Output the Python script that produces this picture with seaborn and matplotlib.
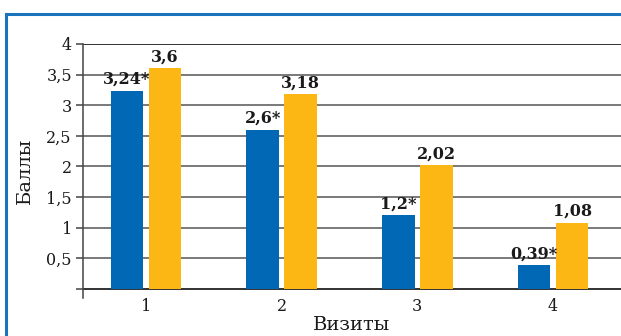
import matplotlib
matplotlib.use("Agg")
import matplotlib.pyplot as plt
from matplotlib.patches import Rectangle
import seaborn as sns
import pandas as pd

visits = ["1", "2", "3", "4"]
group_a = [3.24, 2.6, 1.2, 0.39]   # significant difference marked with *
group_b = [3.6, 3.18, 2.02, 1.08]
series_names = ["Группа A", "Группа B"]
y_ticks = [0, 0.5, 1, 1.5, 2, 2.5, 3, 3.5, 4]

BLUE = "#0068b4"
ORANGE = "#fdb714"
FRAME = "#1a73bd"

df = pd.DataFrame({
    "Визиты": visits * 2,
    "Баллы": group_a + group_b,
    "series": [series_names[0]] * 4 + [series_names[1]] * 4,
})

sns.set_theme(style="white")
plt.rcParams["font.family"] = ["DejaVu Serif"]

fig = plt.figure(figsize=(6.21, 3.36), dpi=100)
ax = fig.add_axes([83 / 621, 1 - 298 / 336, 1 - 83 / 621, (298 - 44) / 336])

sns.barplot(data=df, x="Визиты", y="Баллы", hue="series",
            palette=[BLUE, ORANGE], width=0.56, gap=0.14,
            saturation=1, legend=False, ax=ax, zorder=3,
            linewidth=0, edgecolor="none")

ax.set_xlim(-0.463, 3.5)
ax.set_ylim(-0.147, 4)
ax.set_yticks(y_ticks)
ax.set_yticklabels(["" if t == 0 else f"{t:g}".replace(".", ",") for t in y_ticks],
                   fontsize=11.5, color="#1a1a1a")
ax.tick_params(axis="y", length=5, width=1.1, color="#444", pad=3, left=True)
ax.tick_params(axis="x", length=0, pad=0, labelsize=11.5, labelcolor="#1a1a1a")

# horizontal grid lines
for t in y_ticks:
    c = "#222222" if t in (0, 4) else "#6e6e6e"
    ax.axhline(t, color=c, lw=1.3, zorder=1)

for s in ["top", "right", "bottom"]:
    ax.spines[s].set_visible(False)
ax.spines["left"].set_color("#444")
ax.spines["left"].set_linewidth(1.1)

# value labels above bars
for cont, vals, star in zip(ax.containers, [group_a, group_b], ["*", ""]):
    labels = [f"{v:g}".replace(".", ",") + star for v in vals]
    ax.bar_label(cont, labels=labels, padding=2, fontsize=11.5,
                 fontweight="bold", color="#1a1a1a")

ax.set_xlabel("Визиты", fontsize=14, color="#1a1a1a", labelpad=1)
ax.set_ylabel("Баллы", fontsize=14, color="#1a1a1a", labelpad=9)

# blue frame around the chart
fig.patches.append(Rectangle((5.5 / 621, -0.1), 1.2, 1 - 13.5 / 336 + 0.1,
                             transform=fig.transFigure, fill=False,
                             edgecolor=FRAME, lw=2.2))

fig.savefig("out.png", dpi=100)
